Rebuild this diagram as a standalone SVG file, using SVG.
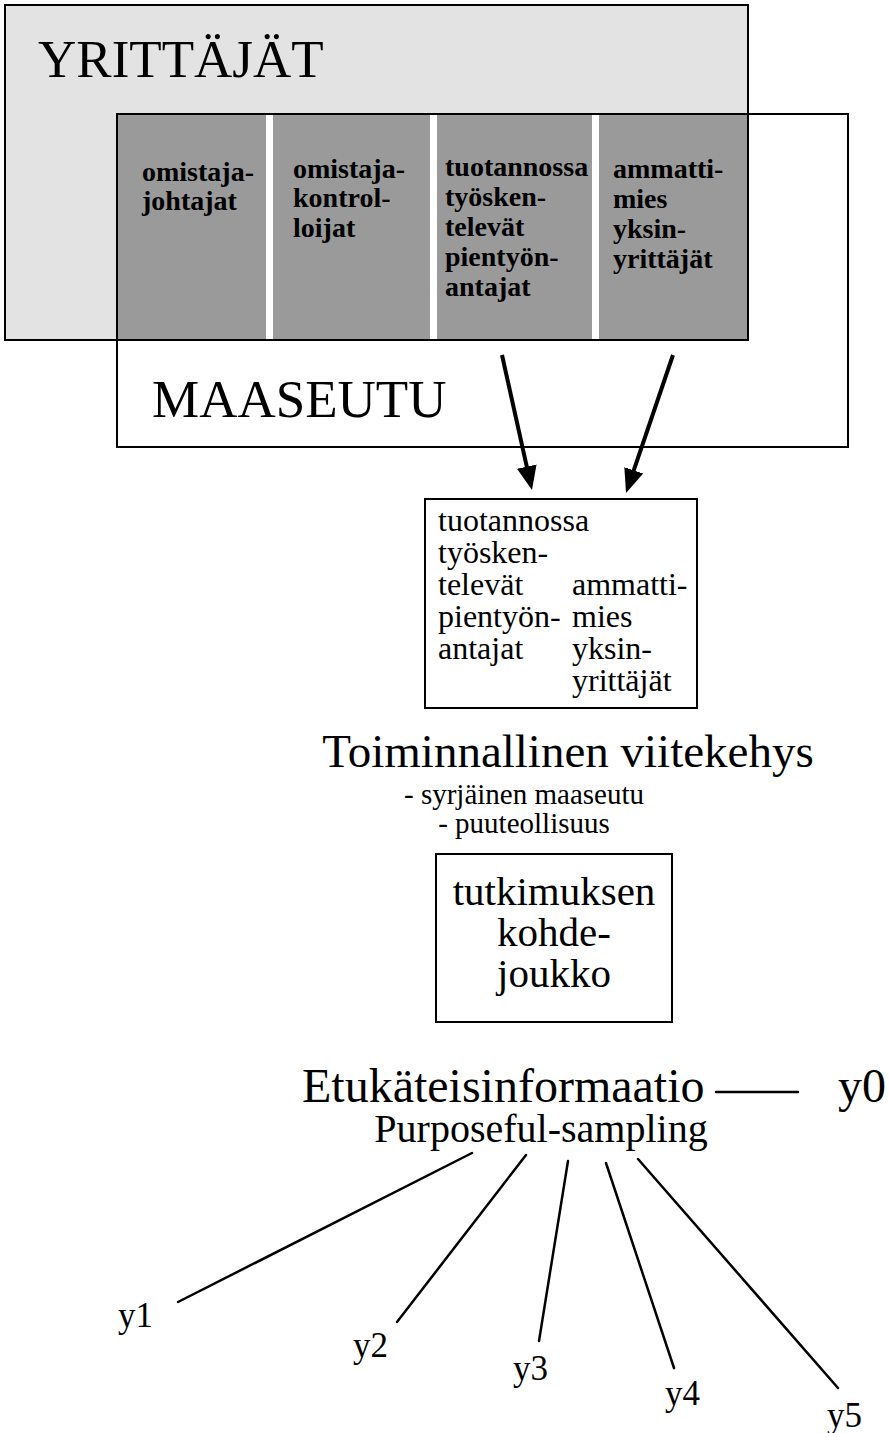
<svg xmlns="http://www.w3.org/2000/svg" width="889" height="1433" viewBox="0 0 889 1433">
<defs>
<style>
text{font-family:"Liberation Serif","Times New Roman",serif;fill:#000}
.outline{fill:none;stroke:#000;stroke-width:2}
.col{fill:#9a9a9a}
.ct{font-size:28px;font-weight:bold}
.lt{font-size:32px}
.mid{text-anchor:middle}
.conn{stroke:#000;stroke-width:2.5;fill:none;stroke-linecap:round}
.arr{stroke:#000;stroke-width:4;fill:none}
.yl{font-size:35px}
</style>
<marker id="ah" viewBox="0 0 24 20" refX="8" refY="10" markerWidth="24" markerHeight="20" markerUnits="userSpaceOnUse" orient="auto">
<path d="M0,0 L24,10 L0,20 Z" fill="#000"/>
</marker>
</defs>
<rect width="889" height="1433" fill="#fff"/>

<g id="yrittajat-bg">
<rect x="5" y="5" width="743" height="335" fill="#e3e3e3"/>
</g>

<g id="maaseutu">
<rect x="117" y="114" width="731" height="333" fill="#fff" stroke="#000" stroke-width="2"/>
<text x="152" y="417" font-size="53">MAASEUTU</text>
</g>

<g id="omistajajohtajat">
<rect class="col" x="118" y="115" width="148" height="225"/>
<text class="ct" x="142" y="181">omistaja-</text>
<text class="ct" x="142" y="210">johtajat</text>
</g>
<g id="omistajakontrolloijat">
<rect class="col" x="273" y="115" width="157" height="225"/>
<text class="ct" x="293" y="178">omistaja-</text>
<text class="ct" x="293" y="207">kontrol-</text>
<text class="ct" x="293" y="237">loijat</text>
</g>
<g id="pientyonantajat-col">
<rect class="col" x="437" y="115" width="155" height="225"/>
<text class="ct" x="445" y="176">tuotannossa</text>
<text class="ct" x="445" y="206">työsken-</text>
<text class="ct" x="445" y="236">televät</text>
<text class="ct" x="445" y="266">pientyön-</text>
<text class="ct" x="445" y="296">antajat</text>
</g>
<g id="yksinyrittajat-col">
<rect class="col" x="599" y="115" width="149" height="225"/>
<text class="ct" x="613" y="178">ammatti-</text>
<text class="ct" x="613" y="208">mies</text>
<text class="ct" x="613" y="238">yksin-</text>
<text class="ct" x="613" y="268">yrittäjät</text>
</g>

<g id="yrittajat">
<rect class="outline" x="5" y="5" width="743" height="335"/>
<text x="38" y="77" font-size="53">YRITTÄJÄT</text>
</g>

<g id="valitut">
<rect x="425" y="499" width="272" height="209" fill="#fff" stroke="#000" stroke-width="2"/>
<text class="lt" x="438" y="531">tuotannossa</text>
<text class="lt" x="438" y="563">työsken-</text>
<text class="lt" x="438" y="595">televät</text>
<text class="lt" x="438" y="627">pientyön-</text>
<text class="lt" x="438" y="659">antajat</text>
<text class="lt" x="572" y="595">ammatti-</text>
<text class="lt" x="572" y="627">mies</text>
<text class="lt" x="572" y="659">yksin-</text>
<text class="lt" x="572" y="691">yrittäjät</text>
</g>

<g id="viitekehys">
<text class="mid" x="568" y="767" font-size="47">Toiminnallinen viitekehys</text>
<text class="mid" x="524" y="804" font-size="29">- syrjäinen maaseutu</text>
<text class="mid" x="524" y="833" font-size="29">- puuteollisuus</text>
</g>

<g id="kohdejoukko">
<rect x="436" y="854" width="236" height="168" fill="#fff" stroke="#000" stroke-width="2"/>
<text class="mid" x="554" y="905" font-size="41">tutkimuksen</text>
<text class="mid" x="554" y="946" font-size="41">kohde-</text>
<text class="mid" x="554" y="987" font-size="41">joukko</text>
</g>

<g id="etukateisinformaatio">
<text x="302" y="1102" font-size="48">Etukäteisinformaatio</text>
<text class="mid" x="541" y="1142" font-size="40">Purposeful-sampling</text>
</g>

<g id="y0"><text x="838" y="1102" font-size="48">y0</text></g>
<g id="y1"><text class="yl" x="118" y="1327">y1</text></g>
<g id="y2"><text class="yl" x="353" y="1357">y2</text></g>
<g id="y3"><text class="yl" x="513" y="1380">y3</text></g>
<g id="y4"><text class="yl" x="665" y="1405">y4</text></g>
<g id="y5"><text class="yl" x="827" y="1427">y5</text></g>

<g id="connectors">
<line class="arr" x1="502" y1="355" x2="528.5" y2="474.4" marker-end="url(#ah)"/>
<line class="arr" x1="673" y1="355" x2="631.2" y2="477.9" marker-end="url(#ah)"/>
<line class="conn" x1="716" y1="1092" x2="798" y2="1092"/>
<line class="conn" x1="472" y1="1153" x2="178" y2="1302"/>
<line class="conn" x1="526" y1="1155" x2="397" y2="1322"/>
<line class="conn" x1="568" y1="1161" x2="539" y2="1341"/>
<line class="conn" x1="606" y1="1163" x2="674" y2="1368"/>
<line class="conn" x1="638" y1="1159" x2="838" y2="1388"/>
</g>
</svg>
